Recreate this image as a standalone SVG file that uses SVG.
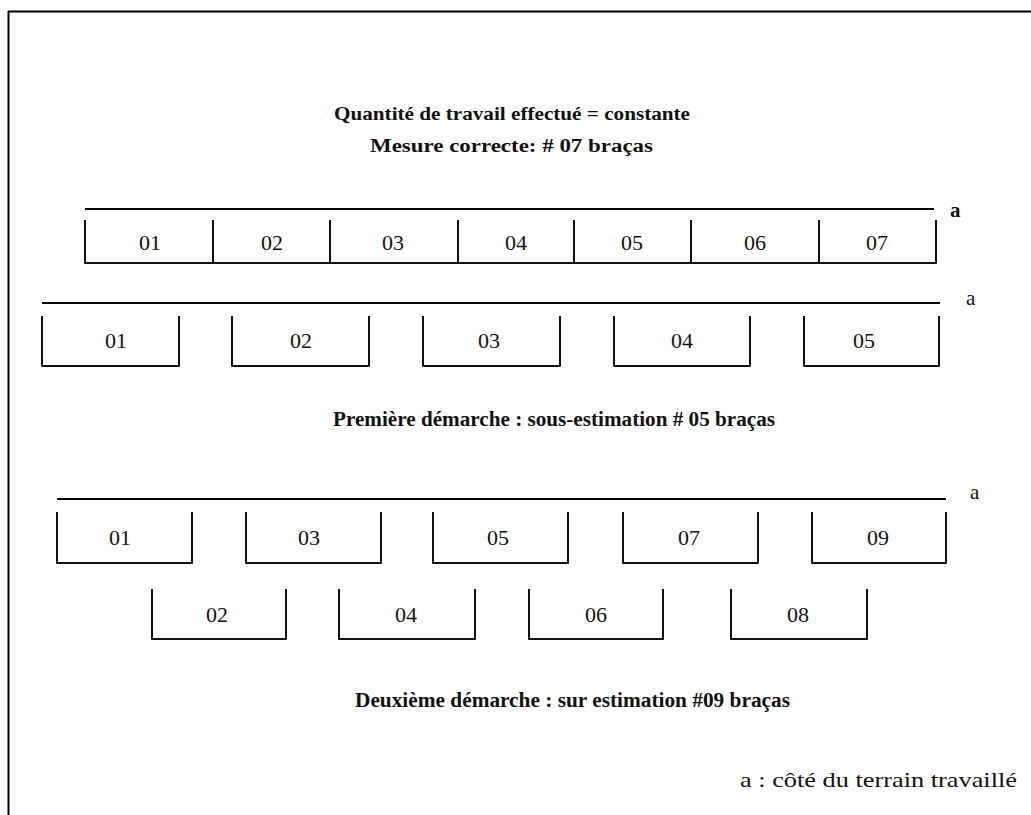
<svg xmlns="http://www.w3.org/2000/svg" width="1031" height="815" viewBox="0 0 1031 815">
<style>
.ln{stroke:#000;stroke-width:2;fill:none}
.br{stroke:#111;stroke-width:2;fill:none;stroke-linejoin:round}
.num{font-family:"Liberation Serif","Times New Roman",serif;font-size:22px;fill:#111;text-anchor:middle}
.a{font-family:"Liberation Serif","Times New Roman",serif;font-size:21px;fill:#111}
.ttl{font-family:"Liberation Serif","Times New Roman",serif;font-weight:bold;font-size:18px;fill:#111}
.lbl{font-family:"Liberation Serif","Times New Roman",serif;font-weight:bold;font-size:20px;fill:#111}
</style>
<rect width="1031" height="815" fill="#fff"/>
<g id="frame">
<line class="ln" x1="8" y1="11.5" x2="1031" y2="11.5" stroke-width="2.5"/>
<line class="ln" x1="8.5" y1="11" x2="8.5" y2="815" stroke-width="2"/>
</g>
<g id="titles">
<text class="ttl" x="334" y="120" textLength="356" lengthAdjust="spacingAndGlyphs">Quantité de travail effectué = constante</text>
<text class="ttl" x="370" y="152" textLength="283" lengthAdjust="spacingAndGlyphs">Mesure correcte: # 07 braças</text>
</g>
<g id="connectors">
<line class="ln" x1="85" y1="209" x2="934" y2="209"/>
<line class="ln" x1="42" y1="303" x2="940" y2="303"/>
<line class="ln" x1="57" y1="499" x2="946" y2="499"/>
</g>
<g id="row1">
<path class="br" d="M85,220 V263 H936 V220 M213,220 V263 M330,220 V263 M458,220 V263 M574,220 V263 M691,220 V263 M819,220 V263"/>
<text class="num" x="150" y="250">01</text>
<text class="num" x="272" y="250">02</text>
<text class="num" x="393" y="250">03</text>
<text class="num" x="516" y="250">04</text>
<text class="num" x="632" y="250">05</text>
<text class="num" x="755" y="250">06</text>
<text class="num" x="877" y="250">07</text>
<text class="a" x="950" y="217" font-weight="bold">a</text>
</g>
<g id="row2">
<path class="br" d="M42,316 V366 H179 V316"/>
<path class="br" d="M232,316 V366 H369 V316"/>
<path class="br" d="M423,316 V366 H560 V316"/>
<path class="br" d="M614,316 V366 H750 V316"/>
<path class="br" d="M804,316 V366 H939 V316"/>
<text class="num" x="116" y="348">01</text>
<text class="num" x="301" y="348">02</text>
<text class="num" x="489" y="348">03</text>
<text class="num" x="682" y="348">04</text>
<text class="num" x="864" y="348">05</text>
<text class="a" x="966" y="305">a</text>
</g>
<g id="label1">
<text class="lbl" x="333" y="426" textLength="442" lengthAdjust="spacingAndGlyphs">Première démarche : sous-estimation # 05 braças</text>
</g>
<g id="row3">
<path class="br" d="M57,512 V563 H192 V512"/>
<path class="br" d="M246,512 V563 H381 V512"/>
<path class="br" d="M433,512 V563 H568 V512"/>
<path class="br" d="M623,512 V563 H758 V512"/>
<path class="br" d="M812,512 V563 H946 V512"/>
<path class="br" d="M152,589 V639 H286 V589"/>
<path class="br" d="M339,589 V639 H475 V589"/>
<path class="br" d="M529,589 V639 H663 V589"/>
<path class="br" d="M731,589 V639 H867 V589"/>
<text class="num" x="120" y="545">01</text>
<text class="num" x="309" y="545">03</text>
<text class="num" x="498" y="545">05</text>
<text class="num" x="689" y="545">07</text>
<text class="num" x="878" y="545">09</text>
<text class="num" x="217" y="622">02</text>
<text class="num" x="406" y="622">04</text>
<text class="num" x="596" y="622">06</text>
<text class="num" x="798" y="622">08</text>
<text class="a" x="970" y="499">a</text>
</g>
<g id="label2">
<text class="lbl" x="355" y="707" textLength="435" lengthAdjust="spacingAndGlyphs">Deuxième démarche : sur estimation #09 braças</text>
</g>
<g id="legend">
<text class="a" x="740" y="787" font-size="24" textLength="277" lengthAdjust="spacingAndGlyphs">a : côté du terrain travaillé</text>
</g>
</svg>
